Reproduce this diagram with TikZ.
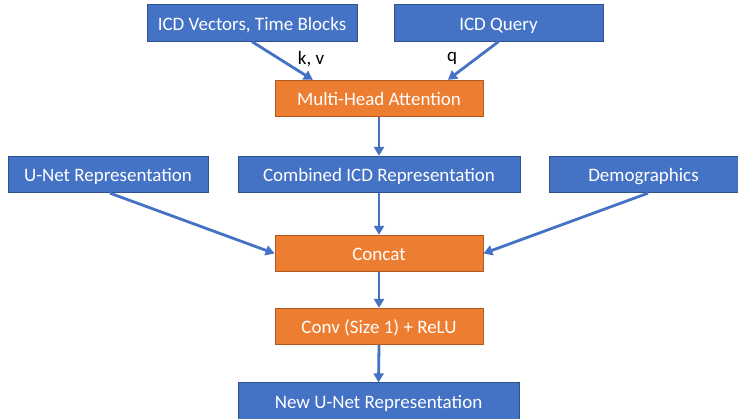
\documentclass[tikz,border=0pt]{standalone}
\usepackage{fontspec}
\setmainfont{Carlito}
\usetikzlibrary{arrows.meta,calc}
\definecolor{boxblue}{HTML}{4472C4}
\definecolor{boxblueedge}{HTML}{2F528F}
\definecolor{boxorange}{HTML}{ED7D31}
\definecolor{boxorangeedge}{HTML}{AE5A21}
\tikzset{
  base/.style={draw, line width=0.8pt, text=white, inner sep=0pt,
    font=\fontsize{19}{22}\selectfont, text height=14.8pt, text depth=0pt,
    minimum height=36.5pt},
  bluebox/.style={base, fill=boxblue, draw=boxblueedge},
  orangebox/.style={base, fill=boxorange, draw=boxorangeedge},
  flow/.style={draw=boxblue, line width=2.8pt, -{Triangle[length=9pt,width=10pt]}},
  edgelabel/.style={font=\fontsize{19}{22}\selectfont, text=black}
}
\begin{document}
\begin{tikzpicture}[x=1pt,y=-1pt]
  \useasboundingbox (0,0) rectangle (738,418);
  % inputs to the attention block
  \node[bluebox, minimum width=210pt] (vec) at (252,23) {ICD Vectors, Time Blocks};
  \node[bluebox, minimum width=209pt] (query) at (498.5,23) {ICD Query};
  \node[orangebox, minimum width=208pt] (mha) at (379,98.5) {Multi-Head Attention};
  % second row
  \node[bluebox, minimum width=200pt] (unet) at (108,174.5) {U-Net Representation};
  \node[bluebox, minimum width=282pt] (comb) at (379,174.5) {Combined ICD Representation};
  \node[bluebox, minimum width=189pt] (demo) at (643.5,174.5) {Demographics};
  % fusion and output
  \node[orangebox, minimum width=208pt] (concat) at (379,253.5) {Concat};
  \node[orangebox, minimum width=208pt] (conv) at (379,326.5) {Conv (Size 1) + ReLU};
  \node[bluebox, minimum width=281pt] (out) at (378.5,401) {New U-Net Representation};
  % connectors
  \coordinate (kvin) at ($(mha.north west)!0.183!(mha.north east)$);
  \coordinate (qin) at ($(mha.north west)!0.83!(mha.north east)$);
  \draw[flow] (vec.south) -- (kvin);
  \draw[flow] (query.south) -- (qin);
  \node[edgelabel] (kv) at (311,59.5) {k, v};
  \node[edgelabel] (ql) at (452,58.5) {q};
  \draw[flow] (mha.south) -- (comb.north);
  \draw[flow] (comb.south) -- (concat.north);
  \draw[flow] ($(unet.south)+(2,0)$) -- (concat.west);
  \draw[flow] ($(demo.south)+(4.5,0)$) -- (concat.east);
  \draw[flow] (concat.south) -- (conv.north);
  \draw[flow] (conv.south) -- (out.north);
\end{tikzpicture}
\end{document}
